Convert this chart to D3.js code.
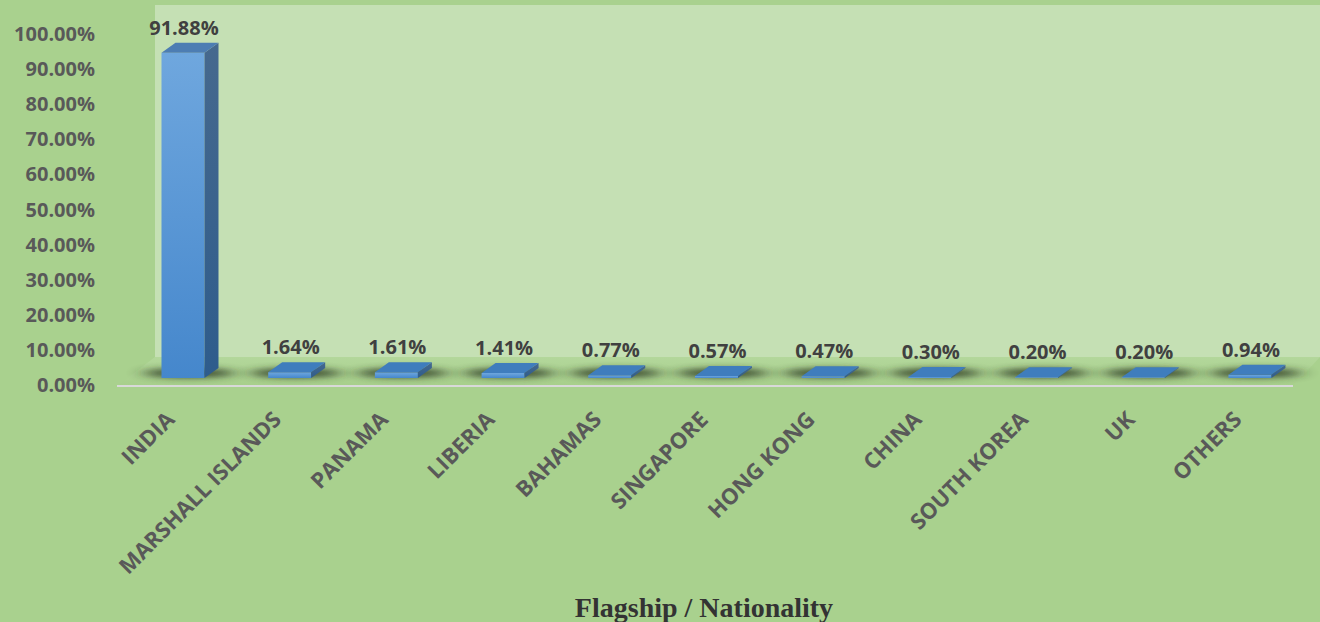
<!DOCTYPE html>
<html>
<head>
<meta charset="utf-8">
<script src="https://cdn.jsdelivr.net/npm/d3@7"></script>
<style>
  body { margin: 0; background: #a9d18e; }
  svg { display: block; }
</style>
</head>
<body>
<svg id="chart" width="1320" height="622"></svg>
<script>
// data
const countries = ["INDIA", "MARSHALL ISLANDS", "PANAMA", "LIBERIA", "BAHAMAS", "SINGAPORE",
  "HONG KONG", "CHINA", "SOUTH KOREA", "UK", "OTHERS"];
const shares = [91.88, 1.64, 1.61, 1.41, 0.77, 0.57, 0.47, 0.30, 0.20, 0.20, 0.94];
const yTicks = [0, 10, 20, 30, 40, 50, 60, 70, 80, 90, 100];
const axisTitle = "Flagship / Nationality";

const data = countries.map((c, i) => ({ name: c, value: shares[i] }));

const svg = d3.select("#chart");
const W = 1320, H = 622;
const font = "'Open Sans', Lato, sans-serif";

// 3d look
const barW = 43, depthX = 14, depthY = -10;

const x = d3.scalePoint().domain(countries).range([129.65, 1303.3]).padding(0.5);
const yBar = d3.scaleLinear().domain([0, 100]).range([378, 24]);
const yLab = d3.scaleLinear().domain([0, 100]).range([385, 34]);

const defs = svg.append("defs");

let g = defs.append("linearGradient").attr("id", "front").attr("x1", 0).attr("y1", 0).attr("x2", 0).attr("y2", 1);
g.append("stop").attr("offset", "0%").attr("stop-color", "#6fa7de");
g.append("stop").attr("offset", "100%").attr("stop-color", "#4587cc");

g = defs.append("linearGradient").attr("id", "side").attr("x1", 0).attr("y1", 0).attr("x2", 0).attr("y2", 1);
g.append("stop").attr("offset", "0%").attr("stop-color", "#46698e");
g.append("stop").attr("offset", "100%").attr("stop-color", "#2e5c8c");

g = defs.append("linearGradient").attr("id", "floorGrad").attr("x1", 0).attr("y1", 0).attr("x2", 0).attr("y2", 1);
g.append("stop").attr("offset", "0%").attr("stop-color", "#b3d79b");
g.append("stop").attr("offset", "100%").attr("stop-color", "#a7cf8b");

defs.append("filter").attr("id", "blur").attr("x", "-50%").attr("y", "-200%").attr("width", "200%").attr("height", "500%")
  .append("feGaussianBlur").attr("stdDeviation", "9 3");

// back wall
svg.append("rect")
  .attr("x", 155).attr("y", 5)
  .attr("width", W - 155).attr("height", 352)
  .attr("fill", "#c5e0b4");

// floor
const floorBack = 357, floorFront = 386;
svg.append("path")
  .attr("d", `M155,${floorBack} L${W},${floorBack} L1293,${floorFront} L117,${floorFront} Z`)
  .attr("fill", "url(#floorGrad)");

// shadows under bars
svg.append("g").selectAll("ellipse")
  .data(data)
  .join("ellipse")
  .attr("cx", d => x(d.name) + 6)
  .attr("cy", 373)
  .attr("rx", 46)
  .attr("ry", 5)
  .attr("fill", "#26321c")
  .attr("opacity", 0.8)
  .attr("filter", "url(#blur)");

// floor edge line
svg.append("line")
  .attr("x1", 117).attr("x2", 1293)
  .attr("y1", floorFront).attr("y2", floorFront)
  .attr("stroke", "#d9d9d9").attr("stroke-width", 2);

// bars
const bars = svg.append("g").selectAll("g").data(data).join("g");

bars.append("rect")
  .attr("x", d => x(d.name) - barW / 2)
  .attr("y", d => yBar(d.value))
  .attr("width", barW)
  .attr("height", d => yBar(0) - yBar(d.value))
  .attr("fill", "url(#front)");

bars.append("path")
  .attr("d", d => {
    const x1 = x(d.name) + barW / 2, top = yBar(d.value), bot = yBar(0);
    return `M${x1},${top} L${x1 + depthX},${top + depthY} L${x1 + depthX},${bot + depthY} L${x1},${bot} Z`;
  })
  .attr("fill", "url(#side)");

bars.append("path")
  .attr("d", d => {
    const x0 = x(d.name) - barW / 2, top = yBar(d.value);
    return `M${x0},${top} L${x0 + depthX},${top + depthY} L${x0 + barW + depthX},${top + depthY} L${x0 + barW},${top} Z`;
  })
  .attr("fill", d => d.value > 10 ? "#4d7db3" : "#3f7dbd");

// value labels
bars.append("text")
  .attr("x", d => x(d.name) + 1)
  .attr("y", d => yBar(d.value) + depthY - 8)
  .attr("text-anchor", "middle")
  .attr("font-family", font)
  .attr("font-weight", "bold")
  .attr("font-size", 20)
  .attr("fill", "#404040")
  .text(d => d.value.toFixed(2) + "%");

// y tick labels
svg.append("g").selectAll("text")
  .data(yTicks)
  .join("text")
  .attr("x", 95)
  .attr("y", d => yLab(d))
  .attr("dy", "0.35em")
  .attr("text-anchor", "end")
  .attr("font-family", font)
  .attr("font-weight", "bold")
  .attr("font-size", 20)
  .attr("fill", "#595959")
  .text(d => d.toFixed(2) + "%");

// category labels
svg.append("g").selectAll("text")
  .data(countries)
  .join("text")
  .attr("transform", d => `translate(${x(d) - 7},${421}) rotate(-45)`)
  .attr("text-anchor", "end")
  .attr("font-family", font)
  .attr("font-weight", "bold")
  .attr("font-size", 22)
  .attr("fill", "#595959")
  .text(d => d);

// axis title
svg.append("text")
  .attr("x", 704)
  .attr("y", 617)
  .attr("text-anchor", "middle")
  .attr("font-family", "'Liberation Serif', 'Times New Roman', serif")
  .attr("font-weight", "bold")
  .attr("font-size", 28)
  .attr("fill", "#333333")
  .text(axisTitle);
</script>
</body>
</html>
